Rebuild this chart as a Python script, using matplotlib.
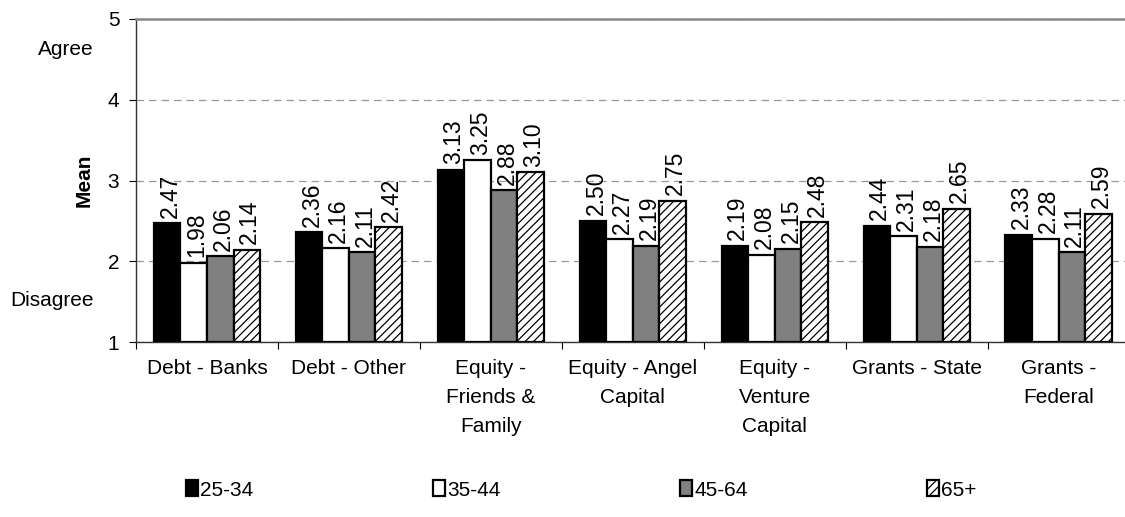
import numpy as np
import matplotlib.pyplot as plt
from matplotlib.transforms import ScaledTranslation

plt.rcParams['font.family'] = ['Liberation Sans', 'DejaVu Sans']
plt.rcParams['hatch.color'] = '#666666'
plt.rcParams['hatch.linewidth'] = 0.9

categories = ["Debt - Banks", "Debt - Other", "Equity -\nFriends &\nFamily",
              "Equity - Angel\nCapital", "Equity -\nVenture\nCapital",
              "Grants - State", "Grants -\nFederal"]
ages = ["25-34", "35-44", "45-64", "65+"]
v_25_34 = [2.47, 2.36, 3.13, 2.50, 2.19, 2.44, 2.33]
v_35_44 = [1.98, 2.16, 3.25, 2.27, 2.08, 2.31, 2.28]
v_45_64 = [2.06, 2.11, 2.88, 2.19, 2.15, 2.18, 2.11]
v_65 = [2.14, 2.42, 3.10, 2.75, 2.48, 2.65, 2.59]

series = [v_25_34, v_35_44, v_45_64, v_65]
fills = ['black', 'white', '#808080', 'white']
hatches = [None, None, None, '////']

fig = plt.figure(figsize=(11.25, 5.17), dpi=100)
ax = fig.add_axes([136/1125, 1 - 342/517, (1125 - 136)/1125 + 0.004, (342 - 19)/517])

# nudge the rotated value labels a few pixels right, like the original
shift = ax.transData + ScaledTranslation(3/100, 0, fig.dpi_scale_trans)

x = np.arange(len(categories))
w = 0.187
for i, vals in enumerate(series):
    pos = x + (i - 1.5) * w
    ax.bar(pos, np.array(vals) - 1, w, bottom=1, color=fills[i],
           edgecolor='black', linewidth=1.6, hatch=hatches[i],
           label=ages[i], zorder=3)
    for p, v in zip(pos, vals):
        ax.text(p, v + 0.07, f"{v:.2f}", rotation=90, ha='center', va='bottom',
                fontsize=16.5, zorder=4, transform=shift)

ax.set_ylim(1, 5)
ax.set_xlim(-0.5, len(categories) - 0.5)
ax.set_yticks([1, 2, 3, 4, 5])
ax.set_yticklabels(['1', '2', '3', '4', '5'], fontsize=15)
ax.yaxis.grid(True, linestyle=(0, (6, 4)), color='#999999', linewidth=0.9)
ax.set_axisbelow(True)

ax.set_xticks(x)
ax.set_xticklabels(categories, fontsize=15, linespacing=1.68, va='top')
ax.tick_params(axis='x', length=0, pad=12)
ax.set_xticks(np.arange(len(categories) + 1) - 0.5, minor=True)
ax.tick_params(axis='x', which='minor', length=5, direction='out', width=0.8)
ax.tick_params(axis='y', length=5, direction='out', width=0.8, pad=7)

ax.spines['right'].set_visible(False)
ax.spines['top'].set_color('#888888')
ax.spines['top'].set_linewidth(1.8)
ax.spines['left'].set_color('#333333')
ax.spines['left'].set_linewidth(1.0)
ax.spines['bottom'].set_color('#333333')
ax.spines['bottom'].set_linewidth(1.0)

ax.set_ylabel("Mean", fontsize=15, fontweight='bold', labelpad=10)
ax.text(-0.043, 4.62, "Agree", transform=ax.get_yaxis_transform(),
        ha='right', va='center', fontsize=15)
ax.text(-0.043, 1.52, "Disagree", transform=ax.get_yaxis_transform(),
        ha='right', va='center', fontsize=15)

fig.legend(loc='center left', bbox_to_anchor=(171/1125, 1 - 490/517), ncol=4,
           frameon=False, fontsize=15, handlelength=0.6, handleheight=0.8,
           handletextpad=0.1, columnspacing=8.6, borderpad=0.2)

fig.savefig('out.png', dpi=100)
